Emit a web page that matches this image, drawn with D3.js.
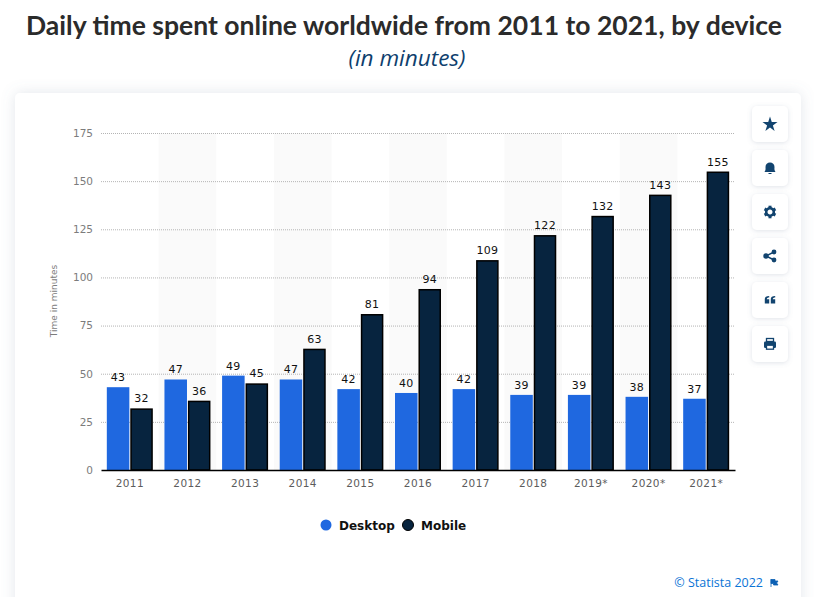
<!DOCTYPE html>
<html>
<head>
<meta charset="utf-8">
<script src="https://cdn.jsdelivr.net/npm/d3@7"></script>
<style>
  html, body { margin: 0; padding: 0; background: #fff; overflow: hidden; }
</style>
</head>
<body>
<div id="chart"></div>
<script>
const years = ["2011", "2012", "2013", "2014", "2015", "2016", "2017", "2018", "2019*", "2020*", "2021*"];
const desktop = [43, 47, 49, 47, 42, 40, 42, 39, 39, 38, 37];
const mobile = [32, 36, 45, 63, 81, 94, 109, 122, 132, 143, 155];
const yTicks = [0, 25, 50, 75, 100, 125, 150, 175];
const seriesNames = ["Desktop", "Mobile"];
const seriesColors = ["#1f68e0", "#07243f"];

const width = 814, height = 597;
const margin = {top: 133, right: 79, bottom: 127, left: 101};

const svg = d3.select("#chart").append("svg")
  .attr("width", width)
  .attr("height", height)
  .style("display", "block")
  .style("font-family", "'DejaVu Sans', sans-serif");

const defs = svg.append("defs");
const shadow = defs.append("filter").attr("id", "card-shadow")
  .attr("x", "-10%").attr("y", "-10%").attr("width", "120%").attr("height", "120%");
shadow.append("feDropShadow")
  .attr("dx", 0).attr("dy", 0).attr("stdDeviation", 7)
  .attr("flood-color", "#6f7f99").attr("flood-opacity", 0.2);
const btnShadow = defs.append("filter").attr("id", "btn-shadow")
  .attr("x", "-30%").attr("y", "-30%").attr("width", "160%").attr("height", "160%");
btnShadow.append("feDropShadow")
  .attr("dx", 0).attr("dy", 1).attr("stdDeviation", 2.5)
  .attr("flood-color", "#6f7f99").attr("flood-opacity", 0.22);

// Page background and card
svg.append("rect").attr("width", width).attr("height", height).attr("fill", "#fff");
svg.append("rect")
  .attr("x", 15).attr("y", 93)
  .attr("width", 786).attr("height", 540)
  .attr("rx", 5)
  .attr("fill", "#fff")
  .attr("filter", "url(#card-shadow)");

// Title
svg.append("text")
  .attr("x", 404).attr("y", 35)
  .attr("text-anchor", "middle")
  .attr("textLength", 756)
  .attr("lengthAdjust", "spacingAndGlyphs")
  .style("font-family", "Lato, sans-serif")
  .style("font-size", "27px")
  .style("font-weight", 700)
  .attr("fill", "#2b2b2b")
  .text("Daily time spent online worldwide from 2011 to 2021, by device");

svg.append("text")
  .attr("x", 407).attr("y", 66)
  .attr("text-anchor", "middle")
  .attr("textLength", 117)
  .attr("lengthAdjust", "spacingAndGlyphs")
  .style("font-family", "'Open Sans', sans-serif")
  .style("font-size", "22px")
  .style("font-style", "italic")
  .attr("fill", "#0f3f6e")
  .text("(in minutes)");

// Scales
const x = d3.scaleBand()
  .domain(years)
  .range([margin.left, width - margin.right]);

const inner = d3.scaleBand()
  .domain(seriesNames)
  .range([0, 46])
  .paddingInner(0.04);

const y = d3.scaleLinear()
  .domain([0, 175])
  .range([height - margin.bottom, margin.top]);

// Alternate column shading
svg.append("g")
  .selectAll("rect")
  .data(years.filter((d, i) => i % 2 === 1))
  .join("rect")
  .attr("x", d => x(d))
  .attr("y", margin.top)
  .attr("width", x.bandwidth())
  .attr("height", y(0) - margin.top)
  .attr("fill", "#fafafa");

// Gridlines
svg.append("g")
  .selectAll("line")
  .data(yTicks.filter(d => d > 0))
  .join("line")
  .attr("x1", margin.left)
  .attr("x2", width - margin.right)
  .attr("y1", d => y(d) + 0.5)
  .attr("y2", d => y(d) + 0.5)
  .attr("stroke", "#b4b4b4")
  .attr("stroke-width", 1)
  .attr("stroke-dasharray", "1 1");

// Axes
svg.append("g")
  .attr("transform", `translate(${margin.left},0)`)
  .call(d3.axisLeft(y).tickValues(yTicks).tickSize(0).tickPadding(8))
  .call(g => {
    g.select(".domain").remove();
    g.selectAll("text")
      .style("font-size", "10.5px")
      .style("font-family", "'DejaVu Sans', sans-serif")
      .attr("fill", "#7c7c7c");
  });

// Bars
const series = [desktop, mobile];
const groups = svg.append("g")
  .selectAll("g")
  .data(seriesNames)
  .join("g");

groups.each(function(name, s) {
  const rows = years.map((year, i) => ({year, value: series[s][i]}));
  const left = d => x(d.year) + (x.bandwidth() - 46) / 2 + inner(name);

  d3.select(this).selectAll("rect")
    .data(rows)
    .join("rect")
    .attr("x", d => left(d) + (s ? 0.75 : 0))
    .attr("y", d => y(d.value) + (s ? 0.75 : 0))
    .attr("width", inner.bandwidth() - (s ? 1.5 : 0))
    .attr("height", d => y(0) - y(d.value) - (s ? 0.75 : 0))
    .attr("fill", seriesColors[s])
    .attr("stroke", s ? "#000" : "none")
    .attr("stroke-width", s ? 1.5 : 0);

  d3.select(this).selectAll("text")
    .data(rows)
    .join("text")
    .attr("x", d => left(d) + inner.bandwidth() / 2)
    .attr("y", d => y(d.value) - 6)
    .attr("text-anchor", "middle")
    .style("font-size", "11px")
    .style("letter-spacing", "0.3px")
    .attr("fill", "#111")
    .text(d => d.value);
});

svg.append("g")
  .attr("transform", `translate(0,${y(0)})`)
  .call(d3.axisBottom(x).tickSize(0).tickPadding(10))
  .call(g => {
    g.select(".domain").attr("stroke", "#000").attr("stroke-width", 1.3);
    g.selectAll("text")
      .style("font-size", "10.5px")
      .style("font-family", "'DejaVu Sans', sans-serif")
      .style("letter-spacing", "0.4px")
      .attr("fill", "#5c5c5c");
  });

// Y axis title
svg.append("text")
  .attr("transform", "rotate(-90)")
  .attr("x", -301).attr("y", 57)
  .attr("text-anchor", "middle")
  .style("font-size", "9px")
  .attr("fill", "#7c7c7c")
  .text("Time in minutes");

// Legend
const legendX = [326, 408];
const legend = svg.append("g")
  .selectAll("g")
  .data(seriesNames)
  .join("g")
  .attr("transform", (d, i) => `translate(${legendX[i]},525)`);
legend.append("circle")
  .attr("r", 5.5)
  .attr("fill", (d, i) => seriesColors[i])
  .attr("stroke", (d, i) => i ? "#000" : "none");
legend.append("text")
  .attr("x", 13).attr("y", 4.5)
  .style("font-size", "12px")
  .style("font-weight", 700)
  .attr("fill", "#111")
  .text(d => d);

// Side buttons
const buttonIcons = ["star", "bell", "gear", "share", "quote", "print"];
const iconColor = "#12446f";
const buttons = svg.append("g")
  .selectAll("g")
  .data(buttonIcons)
  .join("g")
  .attr("transform", (d, i) => `translate(770,${124 + i * 44})`);
buttons.append("rect")
  .attr("x", -18).attr("y", -18)
  .attr("width", 36).attr("height", 36)
  .attr("rx", 5)
  .attr("fill", "#fff")
  .attr("filter", "url(#btn-shadow)");

buttons.each(function(name) {
  const g = d3.select(this);
  if (name === "star") {
    g.append("path")
      .attr("d", d3.symbol(d3.symbolStar, 70)())
      .attr("transform", "translate(0,0.5)")
      .attr("fill", iconColor);
  } else if (name === "bell") {
    g.append("path")
      .attr("d", "M-5.5,4 C-4,2 -4.5,0 -4.5,-1 C-4.5,-4 -2.5,-5.5 0,-5.5 C2.5,-5.5 4.5,-4 4.5,-1 C4.5,0 4,2 5.5,4 Z")
      .attr("fill", iconColor);
    g.append("rect").attr("x", -1.5).attr("y", 5).attr("width", 3).attr("height", 1).attr("fill", iconColor);
  } else if (name === "gear") {
    g.append("circle").attr("r", 3.8).attr("fill", "none").attr("stroke", iconColor).attr("stroke-width", 2.6);
    g.selectAll("rect.tooth")
      .data(d3.range(0, 360, 60))
      .join("rect")
      .attr("x", -1.5).attr("y", -6.3).attr("width", 3).attr("height", 2.5)
      .attr("fill", iconColor)
      .attr("transform", d => `rotate(${d})`);
  } else if (name === "share") {
    g.append("path")
      .attr("d", "M4,-4 L-4,0 L4,4")
      .attr("fill", "none").attr("stroke", iconColor).attr("stroke-width", 1.4);
    g.append("circle").attr("cx", -4).attr("cy", 0).attr("r", 2.7).attr("fill", iconColor);
    g.append("circle").attr("cx", 4).attr("cy", -4).attr("r", 2.4).attr("fill", iconColor);
    g.append("circle").attr("cx", 4).attr("cy", 4).attr("r", 2.4).attr("fill", iconColor);
  } else if (name === "quote") {
    g.selectAll("path")
      .data([-5.2, 0.8])
      .join("path")
      .attr("d", d => `M${d},3.5 L${d},-1 C${d},-3 ${d + 1.5},-4 ${d + 4.4},-4 L${d + 4.4},-2.5 C${d + 3},-2.5 ${d + 2},-2 ${d + 2},-0.8 L${d + 4.4},-0.8 L${d + 4.4},3.5 Z`)
      .attr("fill", iconColor);
  } else {
    g.append("rect").attr("x", -3.5).attr("y", -5.5).attr("width", 7).attr("height", 3).attr("fill", "none").attr("stroke", iconColor).attr("stroke-width", 1.3);
    g.append("rect").attr("x", -6).attr("y", -2.5).attr("width", 12).attr("height", 6.5).attr("rx", 1.3).attr("fill", iconColor);
    g.append("rect").attr("x", -3.5).attr("y", 1.2).attr("width", 7).attr("height", 4).attr("fill", "#fff").attr("stroke", iconColor).attr("stroke-width", 1.3);
  }
});

// Source credit
svg.append("text")
  .attr("x", 763).attr("y", 587)
  .attr("text-anchor", "end")
  .style("font-family", "'Open Sans', sans-serif")
  .style("font-size", "12.5px")
  .attr("fill", "#0a74d6")
  .text("© Statista 2022");

svg.append("path")
  .attr("d", "M771,579 L771,587 M771,579.5 L775,579.5 L775,581 L778,581 L776.6,583 L778,585 L773.5,585 L773.5,583.5 L771,583.5 Z")
  .attr("fill", "#0a5fb4")
  .attr("stroke", "#0a5fb4")
  .attr("stroke-width", 0.8);
</script>
</body>
</html>
